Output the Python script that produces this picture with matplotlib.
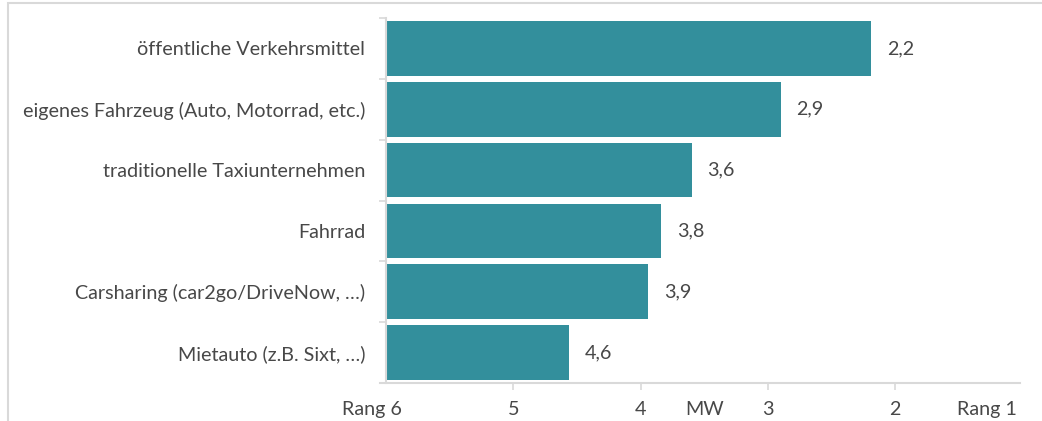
import matplotlib
matplotlib.use("Agg")
import matplotlib.pyplot as plt
from matplotlib.patches import Rectangle
from matplotlib.transforms import blended_transform_factory

categories = [
    "öffentliche Verkehrsmittel",
    "eigenes Fahrzeug (Auto, Motorrad, etc.)",
    "traditionelle Taxiunternehmen",
    "Fahrrad",
    "Carsharing (car2go/DriveNow, …)",
    "Mietauto (z.B. Sixt, …)",
]
values = [2.19, 2.90, 3.60, 3.84, 3.94, 4.56]
value_labels = ["2,2", "2,9", "3,6", "3,8", "3,9", "4,6"]
xtick_values = [5, 4, 3, 2]
xtick_labels = ["5", "4", "3", "2"]
extra_labels = [(6.11, "Rang 6"), (3.5, "MW"), (1.28, "Rang 1")]

plt.rcParams['font.family'] = ['Lato', 'DejaVu Sans']

W, H = 1042, 421
FS = 14.2
TXT = "#484848"
fig = plt.figure(figsize=(W / 100, H / 100), dpi=100)

# outer frame
fig.patches.append(Rectangle((8 / W, -0.1), 1.2, 1 - 3 / H + 0.1, transform=fig.transFigure,
                             fill=False, edgecolor="#D9D9D9", linewidth=1.5))

ax = fig.add_axes([386 / W, 1 - 383 / H, (1022.5 - 386) / W, (383 - 18) / H])
bar_color = "#338F9C"
ys = list(range(len(categories)))
ax.barh(ys, [v - 6 for v in values], left=6, height=0.9, color=bar_color)
ax.set_xlim(6, 1)
ax.set_ylim(len(categories) - 0.5, -0.5)

for y, v, lab in zip(ys, values, value_labels):
    ax.text(v - 0.125, y, lab, ha="left", va="center", fontsize=FS, color=TXT)

ax.set_yticks(ys)
ax.set_yticklabels(categories, fontsize=FS, color=TXT)
ax.tick_params(axis="y", which="major", length=0, pad=15)
ax.set_yticks([i - 0.5 for i in range(len(categories) + 1)], minor=True)
ax.tick_params(axis="y", which="minor", length=5, color="#D9D9D9", width=1.2)

ax.set_xticks(xtick_values)
ax.set_xticklabels(xtick_labels, fontsize=FS, color=TXT)
ax.tick_params(axis="x", which="major", length=5, color="#D9D9D9", width=1.2, pad=8)

trans = blended_transform_factory(ax.transData, ax.transAxes)
for x, t in extra_labels:
    ax.text(x, -0.072, t, transform=trans, ha="center", va="center", fontsize=FS, color=TXT)

for s in ["top", "right"]:
    ax.spines[s].set_visible(False)
ax.spines["left"].set_color("#D9D9D9")
ax.spines["left"].set_linewidth(1.5)
ax.spines["bottom"].set_color("#D9D9D9")
ax.spines["bottom"].set_linewidth(1.5)
ax.spines["bottom"].set_bounds(6.05, 1.02)

fig.savefig("out.png", dpi=100)
